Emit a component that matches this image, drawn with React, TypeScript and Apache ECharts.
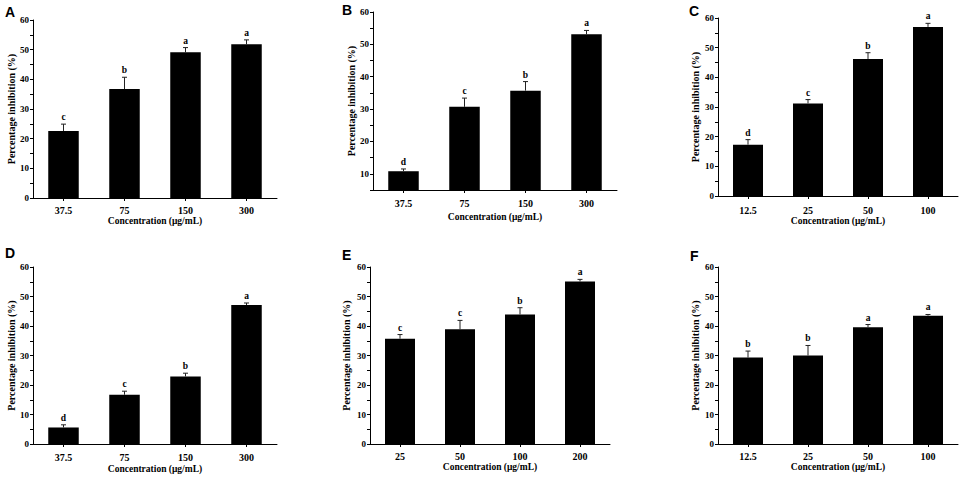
import React, { useEffect, useRef } from "react";
import * as echarts from "echarts";

// ---- data ----
const panelLetters = ["A", "B", "C", "D", "E", "F"];

const catsA = ["37.5", "75", "150", "300"];
const valA = [22.6, 36.7, 49.1, 51.8];
const errA = [2.3, 4.0, 1.6, 1.5];
const sigA = ["c", "b", "a", "a"];

const catsB = ["37.5", "75", "150", "300"];
const valB = [10.8, 30.7, 35.7, 53.1];
const errB = [0.7, 2.7, 2.8, 1.2];
const sigB = ["d", "c", "b", "a"];

const catsC = ["12.5", "25", "50", "100"];
const valC = [17.3, 31.2, 46.2, 57.0];
const errC = [1.7, 1.3, 2.1, 1.2];
const sigC = ["d", "c", "b", "a"];

const catsD = ["37.5", "75", "150", "300"];
const valD = [5.6, 16.7, 22.9, 47.1];
const errD = [0.9, 1.2, 1.1, 0.7];
const sigD = ["d", "c", "b", "a"];

const catsE = ["25", "50", "100", "200"];
const valE = [35.7, 38.9, 43.9, 55.1];
const errE = [1.4, 3.0, 2.3, 0.7];
const sigE = ["c", "c", "b", "a"];

const catsF = ["12.5", "25", "50", "100"];
const valF = [29.3, 30.0, 39.6, 43.5];
const errF = [2.2, 3.4, 0.9, 0.4];
const sigF = ["b", "b", "a", "a"];

const yMins = [0, 5, 0, 0, 0, 0];
const yMax = 60;
const xAxisName = "Concentration (μg/mL)";
const yAxisName = "Percentage inhibition (%)";

const panels = [
  { cats: catsA, vals: valA, errs: errA, sigs: sigA },
  { cats: catsB, vals: valB, errs: errB, sigs: sigB },
  { cats: catsC, vals: valC, errs: errC, sigs: sigC },
  { cats: catsD, vals: valD, errs: errD, sigs: sigD },
  { cats: catsE, vals: valE, errs: errE, sigs: sigE },
  { cats: catsF, vals: valF, errs: errF, sigs: sigF },
];

// ---- layout ----
const layouts = [
  { left: 33, top: 20, width: 244, height: 178, yGap: 16, xLab: 7.5, xGap: 17.5, lx: 5, ly: 5 },
  { left: 373, top: 12, width: 244, height: 178, yGap: 16, xLab: 8, xGap: 21.5, lx: 342, ly: 3 },
  { left: 718, top: 18, width: 240, height: 178, yGap: 17.5, xLab: 9.5, xGap: 18, lx: 689, ly: 4 },
  { left: 33, top: 267, width: 244, height: 177, yGap: 16, xLab: 8.5, xGap: 20, lx: 5, ly: 246 },
  { left: 370, top: 267, width: 240, height: 177, yGap: 19, xLab: 7.5, xGap: 18, lx: 342, ly: 248 },
  { left: 718, top: 267, width: 240, height: 177, yGap: 17.5, xLab: 7.5, xGap: 18, lx: 690, ly: 249 },
];

const serif = "'Liberation Serif', 'Times New Roman', serif";
const sans = "'Liberation Sans', Arial, sans-serif";

export default function App() {
  const ref = useRef<HTMLDivElement>(null);

  useEffect(() => {
    document.body.style.margin = "0";
    if (!ref.current) return;
    const chart = echarts.init(ref.current, undefined, { renderer: "svg" });

    const grid: any[] = [];
    const xAxis: any[] = [];
    const yAxis: any[] = [];
    const series: any[] = [];
    const graphic: any[] = [];

    panels.forEach((p, i) => {
      const L = layouts[i];
      grid.push({ left: L.left, top: L.top, width: L.width, height: L.height, containLabel: false });
      xAxis.push({
        type: "category",
        gridIndex: i,
        data: p.cats,
        name: xAxisName,
        nameLocation: "middle",
        nameGap: L.xGap,
        nameTextStyle: { fontFamily: serif, fontWeight: "bold", fontSize: 9.5, color: "#000" },
        axisLine: { show: true, lineStyle: { color: "#000", width: 1 } },
        axisTick: { show: true, alignWithLabel: true, length: 3, lineStyle: { color: "#000" } },
        axisLabel: { margin: L.xLab, fontFamily: serif, fontWeight: "bold", fontSize: 10, color: "#000" },
        splitLine: { show: false },
      });
      yAxis.push({
        type: "value",
        gridIndex: i,
        min: yMins[i],
        max: yMax,
        interval: 5,
        name: yAxisName,
        nameLocation: "middle",
        nameGap: L.yGap,
        nameTextStyle: { fontFamily: serif, fontWeight: "bold", fontSize: 10, color: "#000" },
        axisLine: { show: true, lineStyle: { color: "#000", width: 1 } },
        axisTick: { show: true, length: 3, lineStyle: { color: "#000" } },
        axisLabel: {
          margin: 4,
          fontFamily: serif,
          fontWeight: "bold",
          fontSize: 9,
          color: "#000",
          formatter: (v: number) => (v % 10 === 0 ? String(v) : ""),
        },
        splitLine: { show: false },
      });
      series.push({
        type: "bar",
        xAxisIndex: i,
        yAxisIndex: i,
        data: p.vals,
        barWidth: "50%",
        itemStyle: { color: "#000" },
      });
      const errData = p.vals.map((v, k) => [k, v, v + p.errs[k]]);
      series.push({
        type: "custom",
        xAxisIndex: i,
        yAxisIndex: i,
        data: errData,
        encode: { x: 0, y: [1, 2] },
        z: 5,
        renderItem: (params: any, api: any) => {
          const base = api.coord([api.value(0), api.value(1)]);
          const top = api.coord([api.value(0), api.value(2)]);
          const cx = base[0];
          return {
            type: "group",
            children: [
              {
                type: "line",
                shape: { x1: cx, y1: base[1], x2: cx, y2: top[1] },
                style: { stroke: "#222", lineWidth: 1 },
              },
              {
                type: "line",
                shape: { x1: cx - 2.5, y1: top[1], x2: cx + 2.5, y2: top[1] },
                style: { stroke: "#222", lineWidth: 1 },
              },
              {
                type: "text",
                x: cx,
                y: top[1] - 2,
                style: {
                  text: p.sigs[params.dataIndex],
                  fontFamily: serif,
                  fontWeight: "bold",
                  fontSize: 9.5,
                  fill: "#000",
                  align: "center",
                  verticalAlign: "bottom",
                },
              },
            ],
          };
        },
      });
      graphic.push({
        type: "text",
        left: L.lx,
        top: L.ly,
        style: {
          text: panelLetters[i],
          fontFamily: sans,
          fontWeight: "bold",
          fontSize: 14,
          fill: "#000",
        },
      });
    });

    chart.setOption({
      animation: false,
      backgroundColor: "#fff",
      grid,
      xAxis,
      yAxis,
      series,
      graphic,
    });

    return () => chart.dispose();
  }, []);

  return <div ref={ref} style={{ width: 964, height: 477 }} />;
}
